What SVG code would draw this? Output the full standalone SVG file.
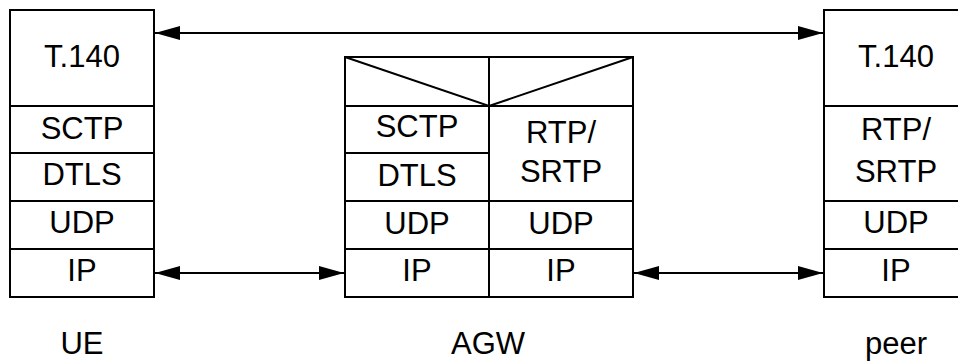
<svg xmlns="http://www.w3.org/2000/svg" width="958" height="363" viewBox="0 0 958 363">
<style>
.b{fill:#fff;stroke:#000;stroke-width:2}
.l{stroke:#000;stroke-width:2;fill:none}
text{font-family:"Liberation Sans",Arial,sans-serif;font-size:31px;fill:#000;text-anchor:middle}
.c{stroke:#000;stroke-width:2;fill:none;marker-start:url(#h);marker-end:url(#h)}
</style>
<defs>
<marker id="h" viewBox="0 0 25 14" refX="25" refY="7" markerWidth="25" markerHeight="14" markerUnits="userSpaceOnUse" orient="auto-start-reverse">
<path d="M0,0 L25,7 L0,14 Z" fill="#000"/>
</marker>
</defs>
<rect width="958" height="363" fill="#fff"/>
<g id="ue">
<rect class="b" x="10" y="10" width="144" height="287"/>
<path class="l" d="M10,106H154M10,153H154M10,201H154M10,249H154"/>
<text x="82" y="67">T.140</text>
<text x="82" y="139">SCTP</text>
<text x="82" y="185">DTLS</text>
<text x="82" y="233">UDP</text>
<text x="82" y="281">IP</text>
<text x="82" y="354">UE</text>
</g>
<g id="agw">
<rect class="b" x="345" y="57" width="288" height="240"/>
<path class="l" d="M489,57V297M345,106H633M345,153H489M345,201H633M345,249H633M345,57L489,106L633,57"/>
<text x="417" y="137">SCTP</text>
<text x="417" y="186">DTLS</text>
<text x="561" y="143">RTP/</text>
<text x="561" y="182">SRTP</text>
<text x="417" y="234">UDP</text>
<text x="561" y="234">UDP</text>
<text x="417" y="281">IP</text>
<text x="561" y="281">IP</text>
<text x="488" y="354">AGW</text>
</g>
<g id="peer">
<rect class="b" x="824" y="10" width="144" height="287"/>
<path class="l" d="M824,106H968M824,201H968M824,249H968"/>
<text x="896" y="67">T.140</text>
<text x="896" y="140">RTP/</text>
<text x="896" y="182">SRTP</text>
<text x="896" y="233">UDP</text>
<text x="896" y="281">IP</text>
<text x="896" y="354">peer</text>
</g>
<g id="connectors">
<path class="c" d="M155,33H823"/>
<path class="c" d="M155,273H344"/>
<path class="c" d="M634,273H823"/>
</g>
</svg>
